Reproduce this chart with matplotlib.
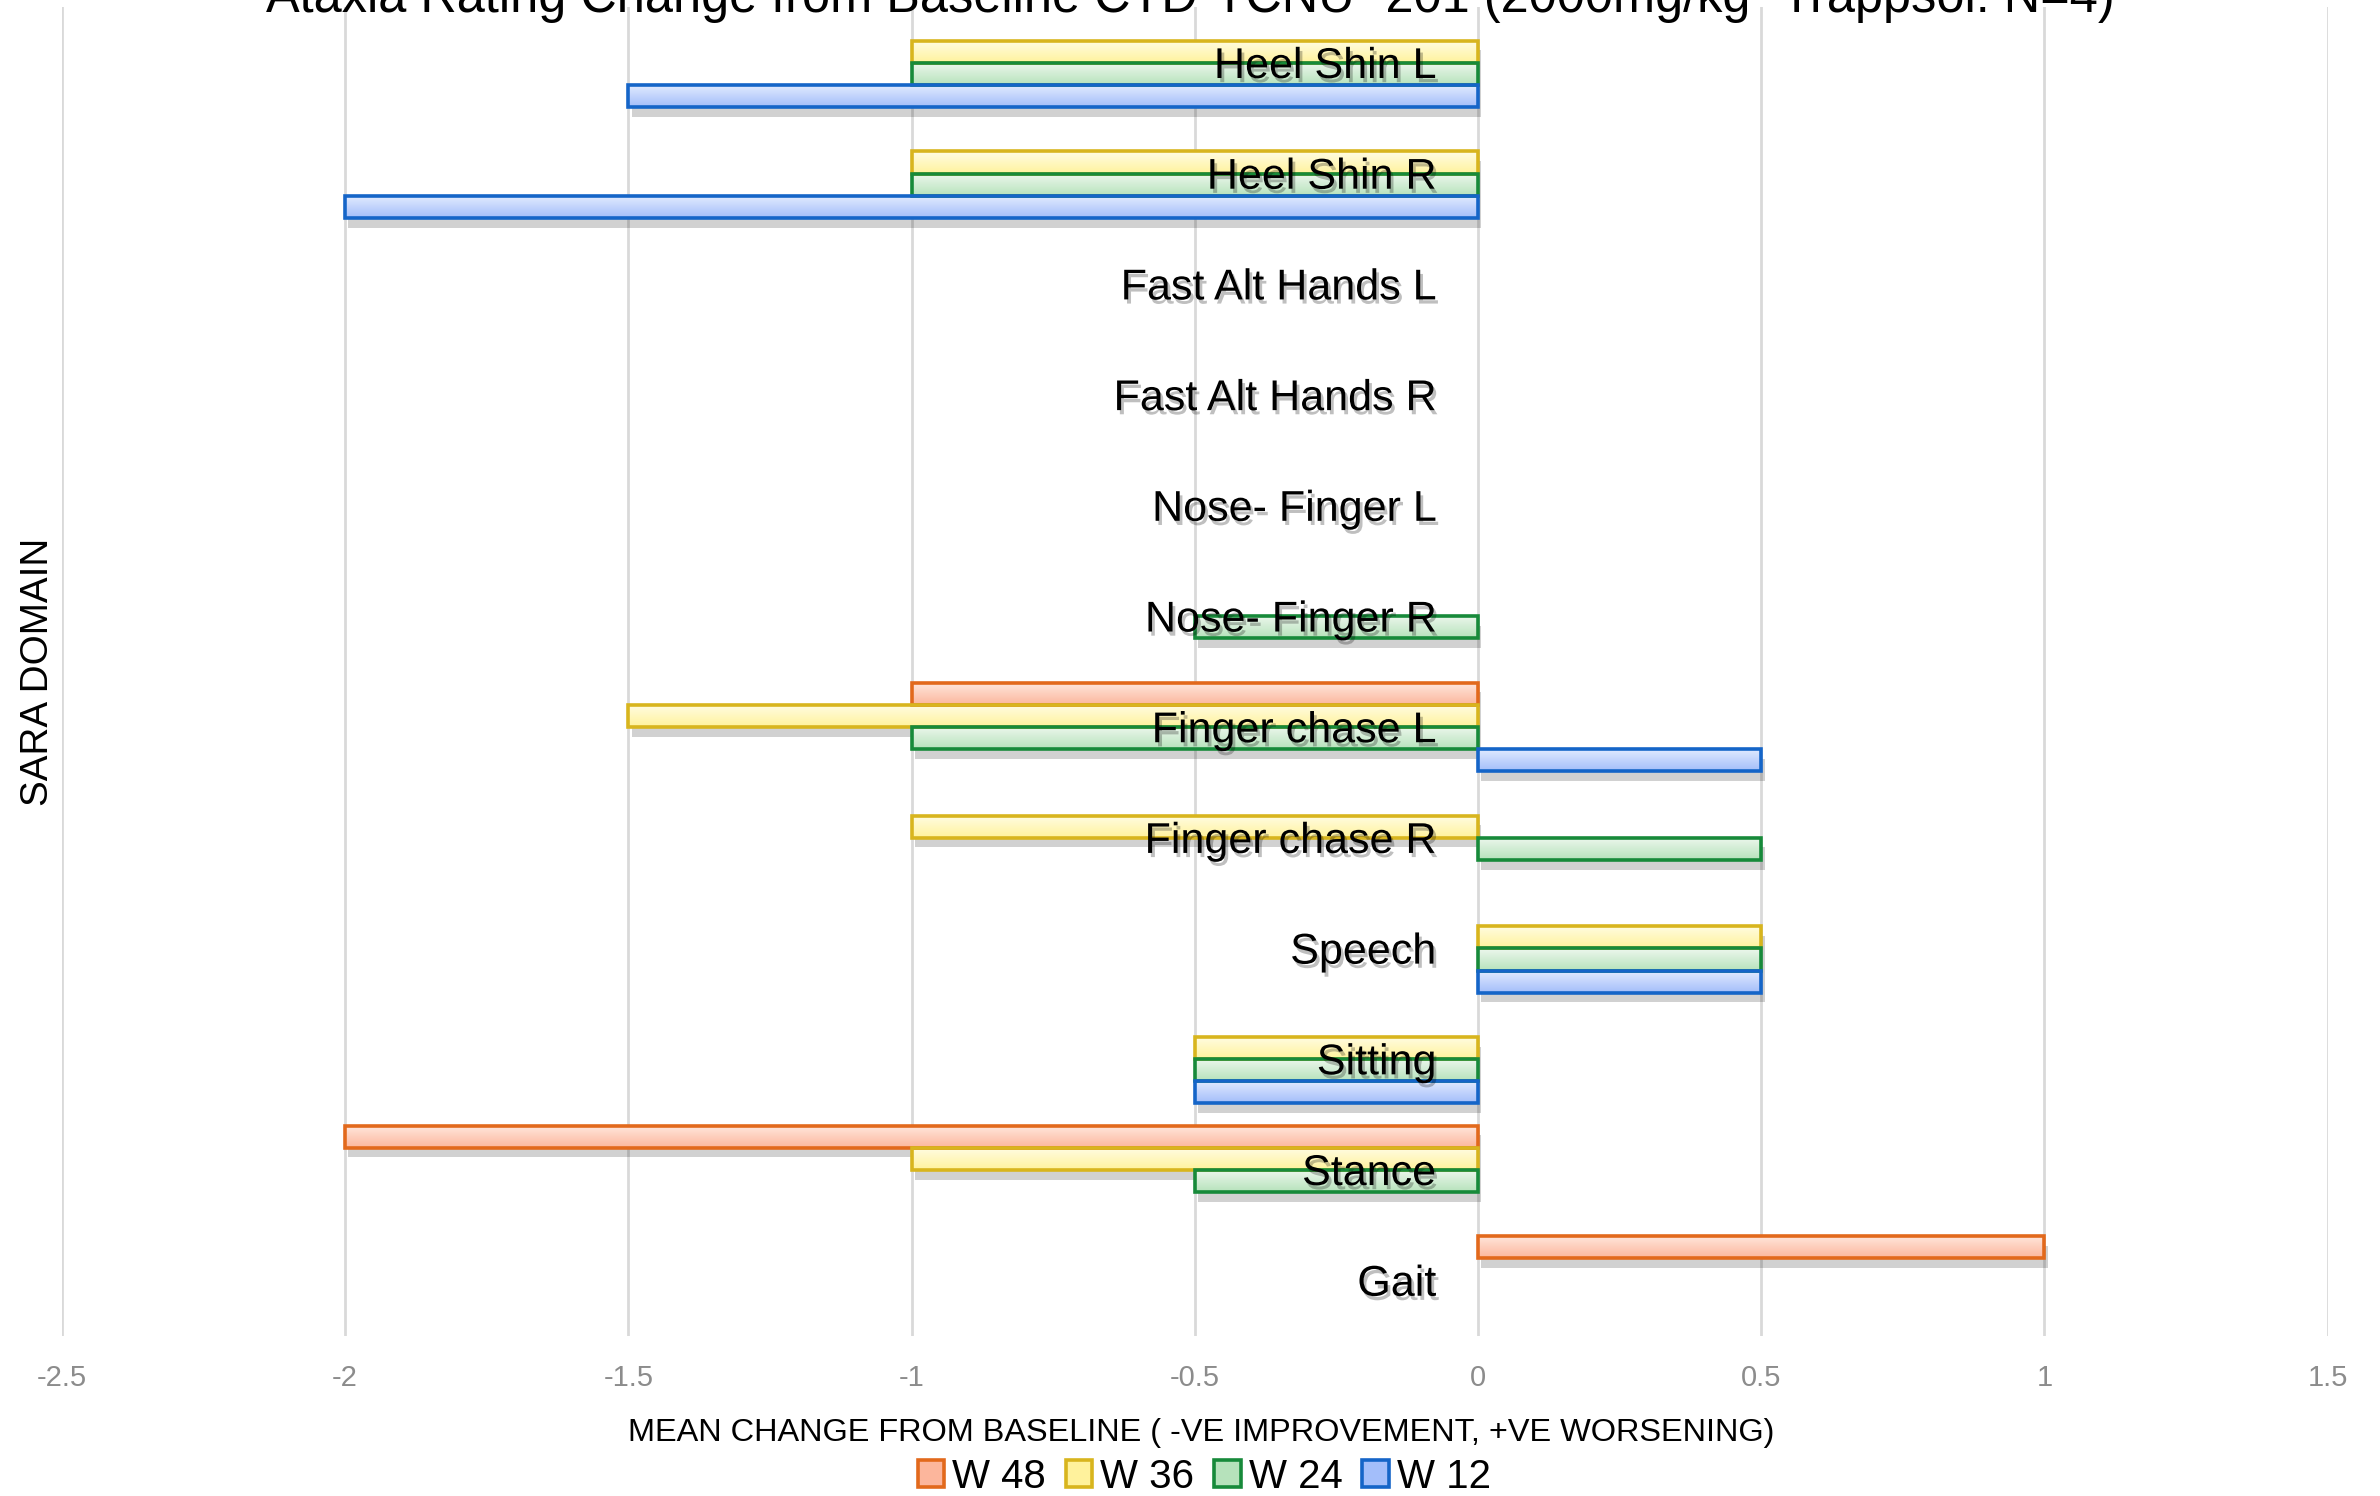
import matplotlib.pyplot as plt
import matplotlib.patheffects as pe
import matplotlib.colors as mcolors
from matplotlib.patches import Patch
import numpy as np

# data
categories = ["Heel Shin L", "Heel Shin R", "Fast Alt Hands L", "Fast Alt Hands R",
              "Nose- Finger L", "Nose- Finger R", "Finger chase L", "Finger chase R",
              "Speech", "Sitting", "Stance", "Gait"]
series_names = ["W 48", "W 36", "W 24", "W 12"]
w48 = [0, 0, 0, 0, 0, 0, -1, 0, 0, 0, -2, 1]
w36 = [-1, -1, 0, 0, 0, 0, -1.5, -1, 0.5, -0.5, -1, 0]
w24 = [-1, -1, 0, 0, 0, -0.5, -1, 0.5, 0.5, -0.5, -0.5, 0]
w12 = [-1.5, -2, 0, 0, 0, 0, 0.5, 0, 0.5, -0.5, 0, 0]
x_ticks = [-2.5, -2, -1.5, -1, -0.5, 0, 0.5, 1, 1.5]

title = "Ataxia Rating Change from Baseline CTD-TCNU- 201 (2000mg/kg -Trappsol: N=4)"

edge_cols = ["#E2691C", "#D8B51E", "#178A3A", "#1565C8"]
top_cols = ["#FFE8DE", "#FFFDE4", "#EEF8EE", "#E4ECFF"]
bot_cols = ["#FCB69C", "#FFF29C", "#B6E2BB", "#A3BEFA"]

plt.rcParams['font.family'] = ['Liberation Sans', 'DejaVu Sans']

fig = plt.figure(figsize=(11.9, 7.48), dpi=200)
ax = fig.add_axes([0.026, 0.107, 0.952, 0.888])

y = np.arange(len(categories))
h = 0.2
all_series = [w48, w36, w24, w12]

for k, vals in enumerate(all_series):
    grad = np.linspace(0, 1, 64).reshape(-1, 1)
    c0 = np.array(mcolors.to_rgb(top_cols[k]))
    c1 = np.array(mcolors.to_rgb(bot_cols[k]))
    img = c0 + (c1 - c0) * grad[:, :, None]
    for i, v in enumerate(vals):
        if v == 0:
            continue
        yc = y[i] + (k - 1.5) * h
        # soft shadow under the bar
        sh = ax.barh(yc, v, height=h, left=0, color='none', linewidth=0, zorder=2.8)[0]
        sh.set_path_effects([pe.SimplePatchShadow(offset=(1.2, -3.5), shadow_rgbFace='black', alpha=0.18)])
        bar = ax.barh(yc, v, height=h, left=0, facecolor='none',
                      edgecolor=edge_cols[k], linewidth=1.3, zorder=3)[0]
        x0, x1 = sorted([0, v])
        im = ax.imshow(img, extent=[x0, x1, yc + h / 2, yc - h / 2], aspect='auto',
                       zorder=2.9, interpolation='bilinear')
        im.set_clip_path(bar)

ax.set_xlim(-2.5, 1.5)
ax.set_ylim(len(categories) - 0.5, -0.5)
ax.set_xticks(x_ticks)
ax.set_xticklabels([f"{t:g}" for t in x_ticks])
ax.grid(axis='x', color='#D9D9D9', linewidth=1.0)
ax.set_axisbelow(True)
for s in ax.spines.values():
    s.set_visible(False)

ax.set_yticks([])
ax.tick_params(axis='x', length=0, pad=10, labelsize=10.5, labelcolor='#8C8C8C')

# category labels sit just left of the zero line, on top of the bars
for i, cat in enumerate(categories):
    t = ax.annotate(cat, (0, y[i]), xytext=(-15, -1.5), textcoords='offset points',
                    ha='right', va='center', fontsize=15.5, zorder=6)
    t.set_path_effects([pe.withSimplePatchShadow(offset=(1, -1.5), shadow_rgbFace='black', alpha=0.25)])

ax.set_xlabel("MEAN CHANGE FROM BASELINE ( -VE IMPROVEMENT, +VE WORSENING)", fontsize=11.7, labelpad=10)
ax.xaxis.set_label_coords(0.503, -0.062)
fig.text(0.016, 0.551, "SARA DOMAIN", rotation=90, fontsize=13.9, ha='center', va='center')

fig.text(0.5, 0.992, title, ha='center', va='baseline', fontsize=18.2)

handles = [Patch(facecolor=bot_cols[k], edgecolor=edge_cols[k], linewidth=1.3, label=series_names[k])
           for k in range(4)]
fig.legend(handles=handles, loc='center', bbox_to_anchor=(0.506, 0.013), ncol=4, frameon=False,
           fontsize=14.5, handlelength=0.65, handleheight=0.65, handletextpad=0.2, columnspacing=0.5)

fig.savefig("out.png", dpi=200)
